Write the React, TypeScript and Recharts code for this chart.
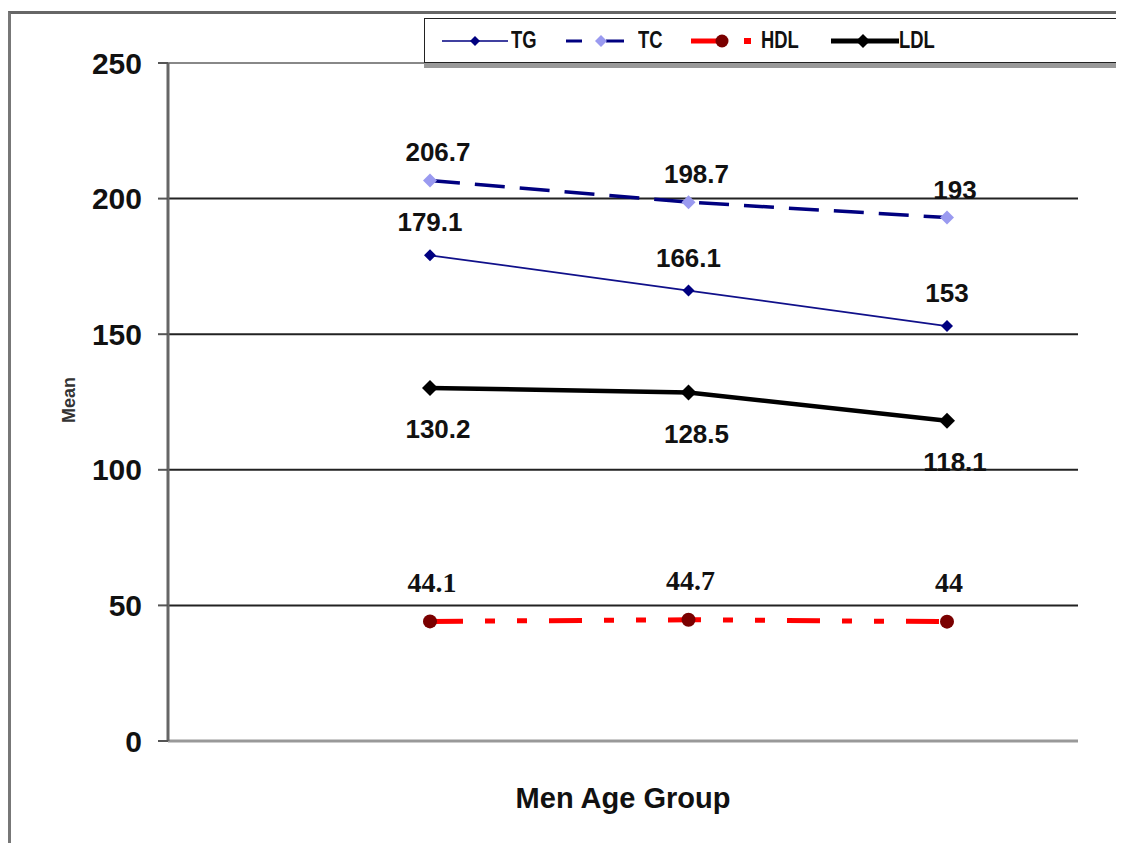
import React from 'react';
import { LineChart, Line, XAxis, YAxis, ReferenceLine, Legend } from 'recharts';

const categories = ['Group 1', 'Group 2', 'Group 3'];
const tgValues = [179.1, 166.1, 153];
const tcValues = [206.7, 198.7, 193];
const hdlValues = [44.1, 44.7, 44];
const ldlValues = [130.2, 128.5, 118.1];
const yTicks = [0, 50, 100, 150, 200, 250];
const gridValues = [50, 100, 150, 200];
const seriesNames = ['TG', 'TC', 'HDL', 'LDL'];

const data = categories.map((c, i) => ({
  cat: c,
  TG: tgValues[i],
  TC: tcValues[i],
  HDL: hdlValues[i],
  LDL: ldlValues[i],
}));

const SANS = "'Liberation Sans', Arial, sans-serif";
const SERIF = "'Liberation Serif', 'DejaVu Serif', 'Times New Roman', serif";

const diamondPath = (cx: number, cy: number, r: number) =>
  `M${cx},${cy - r}L${cx + r},${cy}L${cx},${cy + r}L${cx - r},${cy}Z`;

const diamondDot = (r: number, fill: string) => (props: any) => {
  const { cx, cy, index } = props;
  if (cx == null || cy == null) return <g key={`e${index}`} />;
  return <path key={`d${index}`} d={diamondPath(cx, cy, r)} fill={fill} />;
};

const circleDot = (r: number, fill: string) => (props: any) => {
  const { cx, cy, index } = props;
  if (cx == null || cy == null) return <g key={`e${index}`} />;
  return <circle key={`c${index}`} cx={cx} cy={cy} r={r} fill={fill} />;
};

const makeLabel = (dx: number, dy: number, font: string, size: number) => (props: any) => {
  const { x, y, value, index } = props;
  if (x == null || y == null) return <g key={`le${index}`} />;
  return (
    <text
      key={`l${index}`}
      x={x + dx}
      y={y + dy}
      textAnchor="middle"
      dominantBaseline="central"
      fontFamily={font}
      fontWeight="bold"
      fontSize={size}
      fill="#111"
    >
      {value}
    </text>
  );
};

const legendIcon = (name: string) => {
  if (name === 'TG')
    return (
      <svg width={66} height={20}>
        <line x1={0} y1={10} x2={66} y2={10} stroke="#000080" strokeWidth={1.5} />
        <path d={diamondPath(33, 10, 5)} fill="#000080" />
      </svg>
    );
  if (name === 'TC')
    return (
      <svg width={60} height={20}>
        <line x1={0} y1={10} x2={16} y2={10} stroke="#000080" strokeWidth={3} />
        <line x1={40} y1={10} x2={58} y2={10} stroke="#000080" strokeWidth={3} />
        <path d={diamondPath(35, 10, 6)} fill="#9a9af0" />
      </svg>
    );
  if (name === 'HDL')
    return (
      <svg width={62} height={20}>
        <line x1={0} y1={10} x2={32} y2={10} stroke="#ff0000" strokeWidth={5} />
        <circle cx={31} cy={10} r={6.5} fill="#7a0000" />
        <rect x={53} y={7} width={7} height={6} fill="#ff0000" />
      </svg>
    );
  return (
    <svg width={68} height={20}>
      <line x1={0} y1={10} x2={68} y2={10} stroke="#000" strokeWidth={5} />
      <path d={diamondPath(32, 10, 7)} fill="#000" />
    </svg>
  );
};

const legendLefts = [17, 141, 266, 406];
const legendTextLefts = [86, 213, 336, 474];

const LegendBox = () => (
  <div
    style={{
      position: 'relative',
      width: 740,
      height: 45,
      background: '#fff',
      border: '1.5px solid #222',
      boxShadow: '0 5px 0 #999',
      boxSizing: 'border-box',
    }}
  >
    {seriesNames.map((n, i) => (
      <React.Fragment key={n}>
        <div style={{ position: 'absolute', left: legendLefts[i], top: 12, height: 20, lineHeight: 0 }}>
          {legendIcon(n)}
        </div>
        <div
          style={{
            position: 'absolute',
            left: legendTextLefts[i],
            top: 7,
            fontFamily: SANS,
            fontWeight: 'bold',
            fontSize: 23,
            lineHeight: '28px',
            color: '#111',
            transform: 'scaleX(0.8)',
            transformOrigin: 'left center',
            whiteSpace: 'nowrap',
          }}
        >
          {n}
        </div>
      </React.Fragment>
    ))}
  </div>
);

export default function App() {
  return (
    <div style={{ position: 'relative', width: 1116, height: 835, overflow: 'hidden', background: '#fff' }}>
      <div
        style={{
          position: 'absolute',
          left: 0,
          top: 3,
          right: -20,
          bottom: -20,
          borderLeft: '3px solid #777',
          borderTop: '3px solid #666',
          pointerEvents: 'none',
        }}
      />
      <LineChart
        width={1116}
        height={835}
        data={data}
        margin={{ top: 55, right: 46, left: 0, bottom: 22 }}
      >
        <XAxis
          dataKey="cat"
          tick={false}
          tickLine={false}
          axisLine={{ stroke: '#999', strokeWidth: 3 }}
          padding={{ left: 262, right: 131 }}
          height={80}
          label={{
            content: (p: any) => {
              const vb = p.viewBox || { x: 160, y: 733, width: 910 };
              return (
                <text
                  x={vb.x + vb.width / 2}
                  y={vb.y + 67}
                  textAnchor="middle"
                  fontFamily={SANS}
                  fontWeight="bold"
                  fontSize={29}
                  fill="#111"
                >
                  Men Age Group
                </text>
              );
            },
          }}
        />
        <YAxis
          domain={[0, 250]}
          ticks={yTicks}
          width={160}
          tickSize={10}
          tickMargin={16}
          tickLine={{ stroke: '#555', strokeWidth: 2 }}
          axisLine={{ stroke: '#666', strokeWidth: 3 }}
          tick={{ fontFamily: SANS, fontWeight: 'bold', fontSize: 30, fill: '#111' }}
          label={{
            content: (p: any) => {
              const vb = p.viewBox || { x: 0, y: 55, width: 160, height: 678 };
              const cx = vb.x + 61;
              const cy = vb.y + vb.height / 2 - 2;
              return (
                <text
                  x={cx}
                  y={cy}
                  transform={`rotate(-90, ${cx}, ${cy})`}
                  textAnchor="middle"
                  dominantBaseline="central"
                  fontFamily={SANS}
                  fontWeight="bold"
                  fontSize={18}
                  fill="#333"
                >
                  Mean
                </text>
              );
            },
          }}
        />
        <YAxis
          yAxisId="right"
          orientation="right"
          domain={[0, 250]}
          width={0}
          tick={false}
          tickLine={false}
          axisLine={{ stroke: '#aaa', strokeWidth: 3 }}
        />
        <ReferenceLine y={250} stroke="#888" strokeWidth={2} />
        {gridValues.map((v) => (
          <ReferenceLine key={v} y={v} stroke="#222" strokeWidth={2} />
        ))}
        <Legend
          layout="horizontal"
          verticalAlign="middle"
          align="center"
          wrapperStyle={{ left: 416, top: 10, width: 740, height: 45 }}
          content={() => <LegendBox />}
        />
        <Line
          dataKey="TG"
          stroke="#10108a"
          strokeWidth={1.8}
          isAnimationActive={false}
          dot={diamondDot(6, '#000080')}
          activeDot={false}
          label={makeLabel(0, -33, SANS, 26)}
        />
        <Line
          dataKey="TC"
          stroke="#000080"
          strokeWidth={3.5}
          strokeDasharray="30 15"
          isAnimationActive={false}
          dot={diamondDot(7, '#9a9af0')}
          activeDot={false}
          label={makeLabel(8, -28, SANS, 26)}
        />
        <Line
          dataKey="HDL"
          stroke="#ff0000"
          strokeWidth={5}
          strokeDasharray="33 22 10 22 10 22"
          isAnimationActive={false}
          dot={circleDot(7, '#7a0000')}
          activeDot={false}
          label={makeLabel(2, -39, SERIF, 28)}
        />
        <Line
          dataKey="LDL"
          stroke="#000"
          strokeWidth={4.5}
          isAnimationActive={false}
          dot={diamondDot(8, '#000')}
          activeDot={false}
          label={makeLabel(8, 41, SANS, 26)}
        />
      </LineChart>
    </div>
  );
}
